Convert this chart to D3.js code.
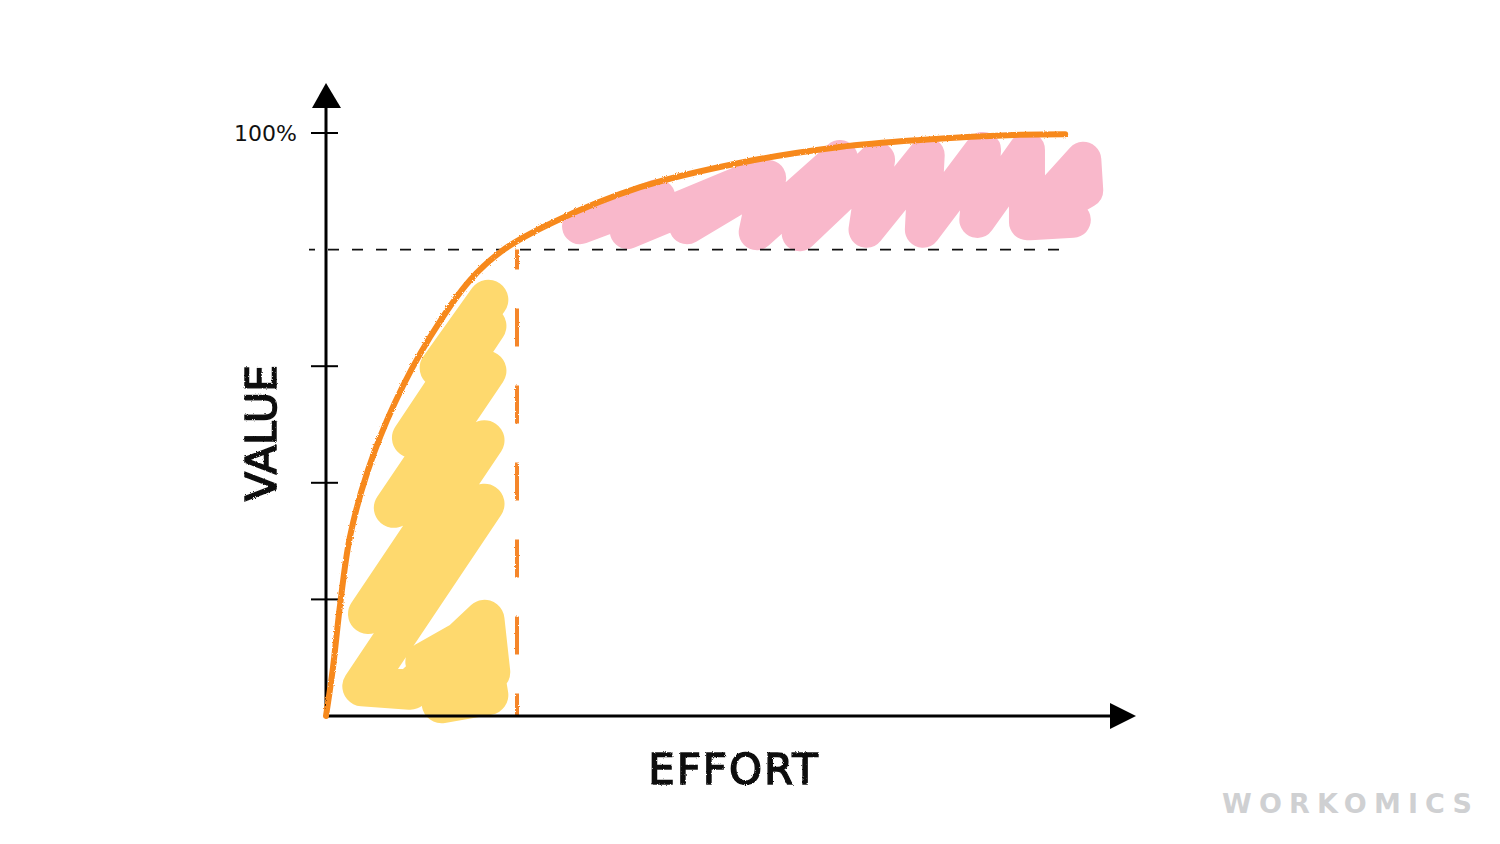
<!DOCTYPE html>
<html>
<head>
<meta charset="utf-8">
<script src="https://cdn.jsdelivr.net/npm/d3@7"></script>
<style>
  html, body { margin: 0; padding: 0; background: #fff; }
  svg { display: block; }
</style>
</head>
<body>
<div id="chart"></div>
<script>
// data (effort %, value %)
var curveEffort = [0, 0.7, 1.5, 2.5, 4.4, 7.2, 10.9, 15.1, 18.7, 23.8, 32.9, 43.4, 53.8, 62.2, 72.7, 77.4];
var curveValue  = [0, 7.9, 19.4, 30.7, 42.2, 53.7, 65.0, 74.8, 80.1, 84.7, 90.7, 94.9, 97.6, 98.8, 99.7, 99.8];

var yTicks = [20, 40, 60, 80, 100];
var yTickLabels = ['', '', '', '', '100%'];

var paretoEffort = 20;
var paretoValue = 80;

// scribbled highlight areas
var yellowEffort = [10.4, 15.9, 17.0, 12.1, 17.2, 16.6, 8.8, 3.8, 16.6, 4.4, 16.6, 7.1, 16.8, 9.0, 16.8, 11.9, 17.0];
var yellowValue  = [9.3, 14.4, 3.6, 2.2, 7.5, 16.5, 4.5, 5.1, 36.4, 17.5, 47.3, 35.7, 59.2, 47.7, 66.9, 59.7, 71.4];

var pinkEffort = [26.6, 34.7, 31.6, 45.4, 37.8, 46.3, 45.1, 53.8, 49.6, 57.7, 56.6, 62.9, 62.5, 68.8, 68.2, 73.4, 73.4, 79.3, 79.5, 73.7, 78.2];
var pinkValue  = [84.0, 89.0, 83.2, 92.6, 84.0, 92.3, 83.0, 95.7, 82.8, 95.4, 83.4, 96.2, 83.4, 97.1, 85.1, 97.1, 84.7, 95.4, 90.2, 84.7, 85.1];

var width = 1500, height = 844;

var svg = d3.select('#chart')
    .append('svg')
    .attr('width', width)
    .attr('height', height);

// rough pencil edge
var defs = svg.append('defs');
var rough = defs.append('filter').attr('id', 'rough')
    .attr('filterUnits', 'userSpaceOnUse')
    .attr('x', 0).attr('y', 0).attr('width', width).attr('height', height);
rough.append('feTurbulence')
    .attr('type', 'fractalNoise')
    .attr('baseFrequency', 0.9)
    .attr('numOctaves', 2)
    .attr('result', 'noise');
rough.append('feDisplacementMap')
    .attr('in', 'SourceGraphic')
    .attr('in2', 'noise')
    .attr('scale', 2.5);

var x = d3.scaleLinear()
    .domain([0, 100])
    .range([326, 1281]);

var y = d3.scaleLinear()
    .domain([0, 100])
    .range([716, 133]);

var zip = function(xs, ys) { return xs.map(function(d, i) { return [d, ys[i]]; }); };

var scribble = d3.line()
    .x(function(d) { return x(d[0]); })
    .y(function(d) { return y(d[1]); })
    .curve(d3.curveLinear);

// yellow: the 20% effort
svg.append('path')
    .attr('d', scribble(zip(yellowEffort, yellowValue)))
    .attr('fill', 'none')
    .attr('stroke', '#fed96e')
    .attr('stroke-width', 40)
    .attr('stroke-linecap', 'round')
    .attr('stroke-linejoin', 'round');

// pink: the remaining 20% value
svg.append('path')
    .attr('d', scribble(zip(pinkEffort, pinkValue)))
    .attr('fill', 'none')
    .attr('stroke', '#f9b8cb')
    .attr('stroke-width', 36)
    .attr('stroke-linecap', 'round')
    .attr('stroke-linejoin', 'round');

// y ticks
svg.append('g')
    .selectAll('line')
    .data(yTicks.filter(function(d) { return d !== paretoValue; }))
    .enter()
    .append('line')
    .attr('x1', x(0) - 15)
    .attr('x2', x(0) + 12)
    .attr('y1', function(d) { return y(d); })
    .attr('y2', function(d) { return y(d); })
    .attr('stroke', '#000')
    .attr('stroke-width', 2);

svg.append('g')
    .selectAll('text')
    .data(yTicks)
    .enter()
    .append('text')
    .attr('x', x(0) - 29)
    .attr('y', function(d) { return y(d) + 8; })
    .attr('text-anchor', 'end')
    .attr('font-family', 'DejaVu Sans')
    .attr('font-size', 22)
    .attr('fill', '#111')
    .text(function(d, i) { return yTickLabels[i]; });

// 80% value dashed guide
svg.append('line')
    .attr('x1', x(0) - 17)
    .attr('x2', 1066)
    .attr('y1', y(paretoValue))
    .attr('y2', y(paretoValue))
    .attr('stroke', '#111')
    .attr('stroke-width', 1.6)
    .attr('stroke-dasharray', '11 13')
    .attr('stroke-dashoffset', 5);

// 20% effort dashed guide
svg.append('g')
    .attr('filter', 'url(#rough)')
    .append('line')
    .attr('x1', x(paretoEffort))
    .attr('x2', x(paretoEffort))
    .attr('y1', y(paretoValue))
    .attr('y2', y(0))
    .attr('stroke', '#f5862a')
    .attr('stroke-width', 4)
    .attr('stroke-dasharray', '38 39')
    .attr('stroke-dashoffset', 18);

// axes
var axes = svg.append('g');
axes.append('line')
    .attr('x1', x(0)).attr('x2', x(0))
    .attr('y1', y(0) + 1).attr('y2', 105)
    .attr('stroke', '#000').attr('stroke-width', 3);
axes.append('line')
    .attr('x1', x(0) - 1).attr('x2', 1112)
    .attr('y1', y(0)).attr('y2', y(0))
    .attr('stroke', '#000').attr('stroke-width', 3);
axes.append('path')
    .attr('d', 'M' + x(0) + ',83 L' + (x(0) + 15) + ',108 L' + (x(0) - 14) + ',108 Z')
    .attr('fill', '#000');
axes.append('path')
    .attr('d', 'M1136,' + y(0) + ' L1110,' + (y(0) - 13) + ' L1110,' + (y(0) + 13) + ' Z')
    .attr('fill', '#000');

// pareto curve
var line = d3.line()
    .x(function(d) { return x(d[0]); })
    .y(function(d) { return y(d[1]); })
    .curve(d3.curveCatmullRom.alpha(0.5));

svg.append('g')
    .attr('filter', 'url(#rough)')
    .append('path')
    .attr('d', line(zip(curveEffort, curveValue)))
    .attr('fill', 'none')
    .attr('stroke', '#f7891f')
    .attr('stroke-width', 6)
    .attr('stroke-linecap', 'round');

// axis titles
var titles = svg.append('g')
    .attr('filter', 'url(#rough)')
    .attr('font-family', 'DejaVu Sans')
    .attr('fill', '#111')
    .attr('stroke', '#111')
    .attr('stroke-width', 1.4);

titles.append('text')
    .attr('x', 734)
    .attr('y', 784)
    .attr('text-anchor', 'middle')
    .attr('font-size', 42)
    .attr('letter-spacing', 2)
    .text('EFFORT');

titles.append('text')
    .attr('transform', 'translate(276,433) rotate(-90)')
    .attr('text-anchor', 'middle')
    .attr('font-size', 43)
    .attr('letter-spacing', 0)
    .text('VALUE');

// watermark
svg.append('text')
    .attr('x', 1222)
    .attr('y', 813)
    .attr('font-family', 'DejaVu Sans')
    .attr('font-weight', 'bold')
    .attr('font-size', 27)
    .attr('textLength', 250)
    .attr('lengthAdjust', 'spacing')
    .attr('fill', '#cfd0d2')
    .text('WORKOMICS');
</script>
</body>
</html>
